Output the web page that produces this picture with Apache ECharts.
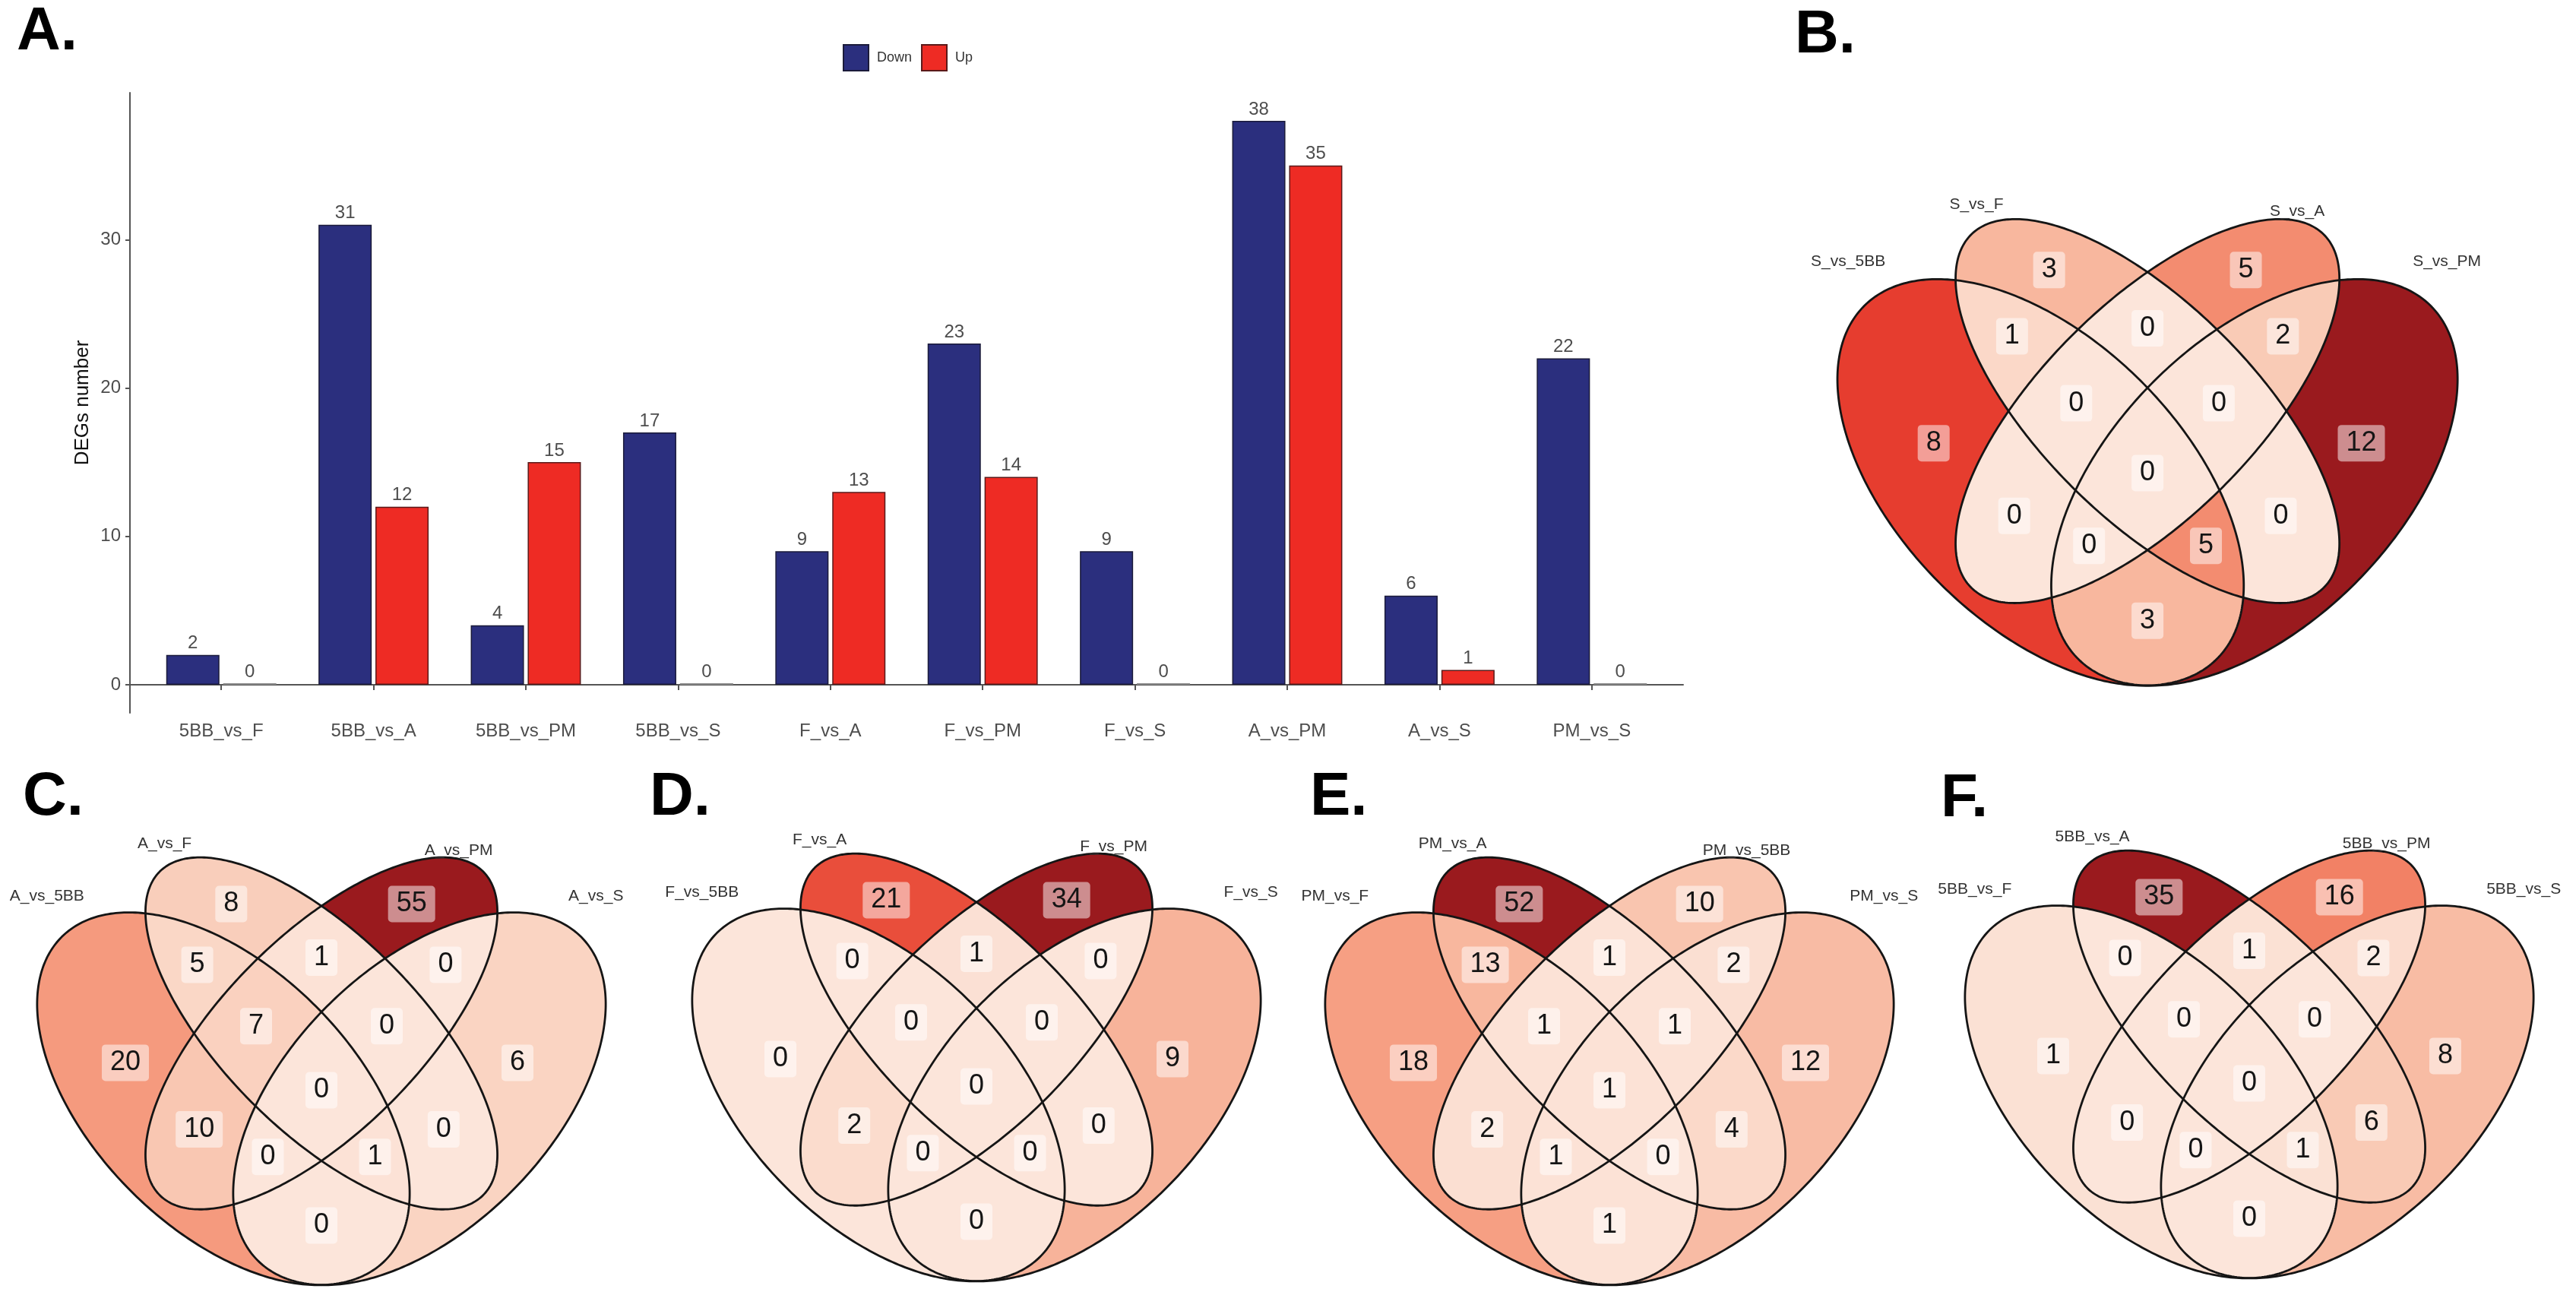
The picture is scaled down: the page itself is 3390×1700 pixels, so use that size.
<!DOCTYPE html>
<html>
<head>
<meta charset="utf-8">
<script src="https://cdn.jsdelivr.net/npm/echarts@6/dist/echarts.min.js"></script>
<style>
html, body { margin: 0; padding: 0; background: #fff; }
#main { width: 3390px; height: 1700px; }
</style>
</head>
<body>
<div id="main"></div>
<script>
// ---------- panel A data ----------
var categories = ['5BB_vs_F', '5BB_vs_A', '5BB_vs_PM', '5BB_vs_S', 'F_vs_A', 'F_vs_PM', 'F_vs_S', 'A_vs_PM', 'A_vs_S', 'PM_vs_S'];
var downCounts = [2, 31, 4, 17, 9, 23, 9, 38, 6, 22];
var upCounts = [0, 12, 15, 0, 13, 14, 0, 35, 1, 0];
var yTicks = [0, 10, 20, 30];

// ---------- venn data (region order = regionKeys) ----------
var regionKeys = ['1', '2', '3', '4', '12', '13', '14', '23', '24', '34', '123', '124', '134', '234', '1234'];

var vennBSets = ['S_vs_5BB', 'S_vs_F', 'S_vs_A', 'S_vs_PM'];
var vennBCounts = [8, 3, 5, 12, 1, 0, 3, 0, 0, 2, 0, 5, 0, 0, 0];

var vennCSets = ['A_vs_5BB', 'A_vs_F', 'A_vs_PM', 'A_vs_S'];
var vennCCounts = [20, 8, 55, 6, 5, 10, 0, 1, 0, 0, 7, 1, 0, 0, 0];

var vennDSets = ['F_vs_5BB', 'F_vs_A', 'F_vs_PM', 'F_vs_S'];
var vennDCounts = [0, 21, 34, 9, 0, 2, 0, 1, 0, 0, 0, 0, 0, 0, 0];

var vennESets = ['PM_vs_F', 'PM_vs_A', 'PM_vs_5BB', 'PM_vs_S'];
var vennECounts = [18, 52, 10, 12, 13, 2, 1, 1, 4, 2, 1, 0, 1, 1, 1];

var vennFSets = ['5BB_vs_F', '5BB_vs_A', '5BB_vs_PM', '5BB_vs_S'];
var vennFCounts = [1, 35, 16, 8, 0, 0, 0, 1, 6, 2, 0, 1, 0, 0, 0];

// ---------- venn layout (unit square, y up) ----------
var ellipses = [
  { cx: 0.35, cy: 0.47, a: 0.35, b: 0.20, rot: 135 },
  { cx: 0.50, cy: 0.57, a: 0.35, b: 0.15, rot: 135 },
  { cx: 0.50, cy: 0.57, a: 0.35, b: 0.15, rot: 45 },
  { cx: 0.65, cy: 0.47, a: 0.35, b: 0.20, rot: 45 }
];
var regionLabelPos = {
  '1': [0.200, 0.525], '2': [0.362, 0.768], '3': [0.638, 0.768], '4': [0.800, 0.525],
  '12': [0.310, 0.675], '13': [0.313, 0.423], '14': [0.500, 0.276], '23': [0.500, 0.686],
  '24': [0.687, 0.423], '34': [0.690, 0.675], '123': [0.400, 0.581], '124': [0.582, 0.381],
  '134': [0.418, 0.381], '234': [0.600, 0.581], '1234': [0.500, 0.483]
};
var setLabelPos = [[0.08, 0.78], [0.26, 0.86], [0.71, 0.85], [0.92, 0.78]];
var vennColors = ['#fce5da', '#f9cbb6', '#f6a286', '#f07659', '#e63d2f', '#c2242a', '#9a1a1e'];

var FONT = '"Liberation Sans", Arial, sans-serif';

var vennPanels = [
  { sets: vennBSets, counts: vennBCounts, grid: { left: 2404, top: 259.5, width: 844.2, height: 675.4 }, yMin: 0.15, yMax: 0.87 },
  { sets: vennCSets, counts: vennCCounts, grid: { left: 36, top: 1101.7, width: 774, height: 593.4 }, yMin: 0.18, yMax: 0.87 },
  { sets: vennDSets, counts: vennDCounts, grid: { left: 898, top: 1096.7, width: 774, height: 593.4 }, yMin: 0.18, yMax: 0.87 },
  { sets: vennESets, counts: vennECounts, grid: { left: 1731, top: 1101.7, width: 774, height: 593.4 }, yMin: 0.18, yMax: 0.87 },
  { sets: vennFSets, counts: vennFCounts, grid: { left: 2573, top: 1092.7, width: 774, height: 593.4 }, yMin: 0.18, yMax: 0.87 }
];

// ellipse outline as a polygon, counter clockwise
function ellipsePoints(e, n) {
  var th = e.rot * Math.PI / 180, c = Math.cos(th), s = Math.sin(th);
  var pts = [];
  for (var k = 0; k < n; k++) {
    var t = 2 * Math.PI * k / n;
    var u = e.a * Math.cos(t), v = e.b * Math.sin(t);
    pts.push([e.cx + u * c - v * s, e.cy + u * s + v * c]);
  }
  return pts;
}

// Sutherland-Hodgman, clip polygon is convex
function clipPoly(subject, clip) {
  var out = subject;
  for (var i = 0; i < clip.length && out.length; i++) {
    var A = clip[i], B = clip[(i + 1) % clip.length];
    var input = out;
    out = [];
    for (var j = 0; j < input.length; j++) {
      var P = input[j], Q = input[(j + 1) % input.length];
      var sp = (B[0] - A[0]) * (P[1] - A[1]) - (B[1] - A[1]) * (P[0] - A[0]);
      var sq = (B[0] - A[0]) * (Q[1] - A[1]) - (B[1] - A[1]) * (Q[0] - A[0]);
      if (sp >= 0) out.push(P);
      if ((sp >= 0) !== (sq >= 0)) {
        var t = sp / (sp - sq);
        out.push([P[0] + t * (Q[0] - P[0]), P[1] + t * (Q[1] - P[1])]);
      }
    }
  }
  return out;
}

var ellipsePolys = ellipses.map(function (e) { return ellipsePoints(e, 360); });
// regions are painted as plain intersections, smaller sets first,
// so later (deeper) intersections cover the overlap
var regionPolys = regionKeys.map(function (key) {
  var ids = key.split('').map(function (c) { return +c - 1; });
  var poly = ellipsePolys[ids[0]];
  for (var i = 1; i < ids.length; i++) poly = clipPoly(poly, ellipsePolys[ids[i]]);
  return poly;
});

// zero bars are drawn as a grey line like the ggplot outline
function barData(arr) {
  return arr.map(function (v) {
    return v === 0 ? { value: v, itemStyle: { color: '#8a8a8a', borderColor: '#8a8a8a' } } : v;
  });
}

var grids = [
  { left: 171, top: 122, width: 2044, height: 816 },  // frame for axis lines
  { left: 191, top: 122, width: 2004, height: 816 }   // bars
];
var xAxes = [
  { gridIndex: 0, type: 'value', min: 0, max: 1, axisLine: { lineStyle: { color: '#555', width: 2 } }, axisTick: { show: false }, axisLabel: { show: false }, splitLine: { show: false } },
  { gridIndex: 1, type: 'category', data: categories, axisLine: { show: false },
    axisTick: { show: true, alignWithLabel: true, length: 7, lineStyle: { color: '#555', width: 2 } },
    axisLabel: { fontSize: 24, color: '#4d4d4d', margin: 12, fontFamily: FONT } }
];
var yAxes = [
  { gridIndex: 0, type: 'value', min: -1.9, max: 39.9,
    name: 'DEGs number', nameLocation: 'middle', nameGap: 46,
    nameTextStyle: { fontSize: 26, color: '#111', fontFamily: FONT },
    axisLine: { show: true, lineStyle: { color: '#555', width: 2 } },
    axisTick: { show: true, length: 6, customValues: yTicks, lineStyle: { color: '#555', width: 2 } },
    axisLabel: { fontSize: 24, color: '#4d4d4d', margin: 12, customValues: yTicks, fontFamily: FONT },
    splitLine: { show: false } },
  { gridIndex: 1, type: 'value', min: -1.9, max: 39.9, show: false }
];

var series = [
  { name: 'Down', type: 'bar', xAxisIndex: 1, yAxisIndex: 1, data: barData(downCounts), barWidth: 70, barGap: '7%', barMinHeight: 2,
    itemStyle: { color: '#2b2f7e', borderColor: '#1b1b3a', borderWidth: 1.5 },
    label: { show: true, position: 'top', distance: 3, fontSize: 24, color: '#4d4d4d', fontFamily: FONT } },
  { name: 'Up', type: 'bar', xAxisIndex: 1, yAxisIndex: 1, data: barData(upCounts), barWidth: 70, barMinHeight: 2,
    itemStyle: { color: '#ee2b24', borderColor: '#5a1a1a', borderWidth: 1.5 },
    label: { show: true, position: 'top', distance: 3, fontSize: 24, color: '#4d4d4d', fontFamily: FONT } }
];
var visualMaps = [];

vennPanels.forEach(function (p, vi) {
  var gi = grids.length;
  grids.push(p.grid);
  xAxes.push({ gridIndex: gi, type: 'value', min: 0.05, max: 0.95, show: false });
  yAxes.push({ gridIndex: gi, type: 'value', min: p.yMin, max: p.yMax, show: false });

  var regionData = p.counts.map(function (v, i) { return [i, v]; });

  visualMaps.push({
    type: 'continuous', show: false, seriesIndex: series.length, dimension: 1,
    min: 0, max: Math.max.apply(null, p.counts), inRange: { color: vennColors }
  });

  // filled regions
  series.push({
    type: 'custom', xAxisIndex: gi, yAxisIndex: gi, z: 2, data: regionData,
    renderItem: function (params, api) {
      var pts = regionPolys[api.value(0)].map(function (q) { return api.coord(q); });
      var col = api.visual('color');
      return { type: 'polygon', shape: { points: pts }, style: { fill: col, stroke: col, lineWidth: 0.6 } };
    }
  });

  // ellipse outlines and set names
  series.push({
    type: 'custom', xAxisIndex: gi, yAxisIndex: gi, z: 3, data: [[0], [1], [2], [3]],
    renderItem: function (params, api) {
      var i = api.value(0);
      var pts = ellipsePolys[i].map(function (q) { return api.coord(q); });
      var lp = api.coord(setLabelPos[i]);
      return {
        type: 'group', children: [
          { type: 'polygon', shape: { points: pts }, style: { fill: 'none', stroke: '#151515', lineWidth: 2.8 } },
          { type: 'text', x: lp[0], y: lp[1], style: { text: p.sets[i], font: '21px ' + FONT, fill: '#333',
            align: 'center', verticalAlign: 'middle' } }
        ]
      };
    }
  });

  // region counts
  series.push({
    type: 'custom', xAxisIndex: gi, yAxisIndex: gi, z: 4, data: regionData,
    renderItem: function (params, api) {
      var c = api.coord(regionLabelPos[regionKeys[api.value(0)]]);
      return {
        type: 'text', x: c[0], y: c[1],
        style: { text: String(api.value(1)), font: '36px ' + FONT, fill: '#151515',
          align: 'center', verticalAlign: 'middle',
          backgroundColor: 'rgba(255,255,255,0.5)', padding: [6, 11], borderRadius: 5 }
      };
    }
  });
});

var panelLetters = [['A.', 22, 43], ['B.', 2362, 47], ['C.', 30, 1050], ['D.', 855, 1050], ['E.', 1724, 1050], ['F.', 2554, 1052]];

var chart = echarts.init(document.getElementById('main'));
chart.setOption({
  animation: false,
  backgroundColor: '#fff',
  legend: {
    data: ['Down', 'Up'], left: 1104, top: 53, itemWidth: 33, itemHeight: 34, itemGap: 12, icon: 'rect',
    textStyle: { fontSize: 18, color: '#333', fontFamily: FONT, padding: [0, 0, 0, 6] }
  },
  grid: grids,
  xAxis: xAxes,
  yAxis: yAxes,
  visualMap: visualMaps,
  graphic: panelLetters.map(function (l) {
    return { type: 'text', x: l[1], y: l[2], style: { text: l[0], font: 'bold 80px ' + FONT, fill: '#000', verticalAlign: 'middle' } };
  }),
  series: series
});
</script>
</body>
</html>
